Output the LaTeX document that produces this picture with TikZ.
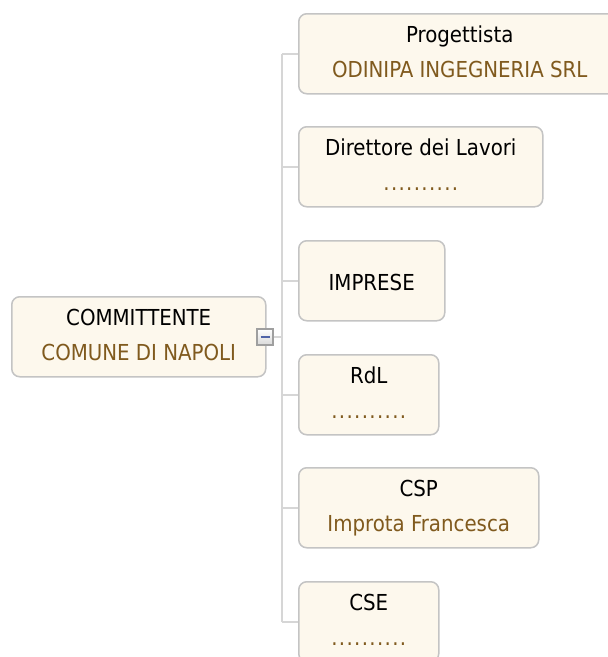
\documentclass[tikz,border=0pt]{standalone}
\usepackage{fontspec}
\setmainfont{DejaVu Sans Condensed}
\definecolor{boxfill}{RGB}{253,248,237}
\definecolor{boxline}{RGB}{196,196,196}
\definecolor{nametext}{RGB}{128,90,30}
\definecolor{wirecol}{RGB}{214,214,214}
\definecolor{minuscol}{RGB}{80,100,168}
\newcommand{\who}[1]{\textcolor{nametext}{#1}}
\newcommand{\blank}{\who{\addfontfeature{LetterSpace=6}..........}}
\tikzset{
	role/.style={draw=boxline,line width=1.5pt,fill=boxfill,rounded corners=8pt,
		inner sep=0pt,minimum height=80pt,align=center,anchor=north west,
		font=\fontsize{22}{35}\selectfont,text height=64pt,text depth=16pt},
	wire/.style={draw=wirecol,line width=1.5pt},
	toggle/.style={draw=gray!75,line width=1.2pt,top color=white,bottom color=gray!30,
		minimum size=16pt,inner sep=0pt}
}
\begin{document}
\begin{tikzpicture}[x=1pt,y=-1pt]
		\clip (0,0) rectangle (608,657);
		\fill[white] (0,0) rectangle (608,657);
		\node[role,minimum width=254pt] (client) at (11,296) {COMMITTENTE\\\who{COMUNE DI NAPOLI}};
		\node[role,minimum width=322pt] (designer) at (298,13) {Progettista\\\who{ODINIPA INGEGNERIA SRL}};
		\node[role,minimum width=244pt] (director) at (298,126) {Direttore dei Lavori\\\blank};
		\node[role,minimum width=146pt,text height=50pt,text depth=30pt] (firms) at (298,240) {IMPRESE};
		\node[role,minimum width=140pt] (rdl) at (298,354) {RdL\\\blank};
		\node[role,minimum width=240pt] (csp) at (298,467) {CSP\\\who{Improta Francesca}};
		\node[role,minimum width=140pt] (cse) at (298,581) {CSE\\\blank};
		\node[toggle] (fold) at (265,337) {\textcolor{minuscol}{\rule[-1pt]{9pt}{2pt}}};
		\coordinate (fork) at (282,337);
		\draw[wire] (fold.east) -- (fork);
		\draw[wire] (fork |- designer.west) -- (fork |- cse.west);
		\foreach \n in {designer,director,firms,rdl,csp,cse}
			\draw[wire] (fork |- \n.west) -- (\n.west);
	\end{tikzpicture}
\end{document}
